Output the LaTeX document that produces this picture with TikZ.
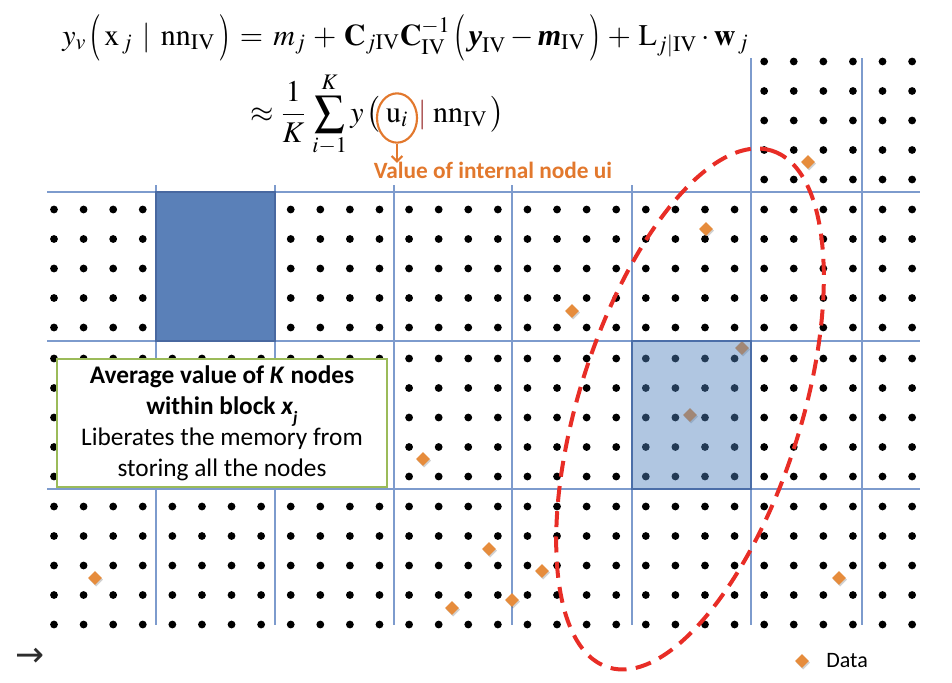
\documentclass[tikz,border=0pt]{standalone}
\usepackage{amsmath}
\usepackage{graphicx}
\usepackage{mathptmx}
\usepackage{fontspec}
\newfontfamily\calib{Carlito}
\newfontfamily\timesf{Liberation Serif}
\newfontfamily\dejavu{DejaVu Sans}
\usetikzlibrary{shapes.geometric,arrows.meta}
\definecolor{gridc}{RGB}{125,155,205}
\definecolor{dblue}{RGB}{90,128,184}
\definecolor{dbluebd}{RGB}{72,104,160}
\definecolor{lblue}{RGB}{79,129,189}
\definecolor{lbluebd}{RGB}{75,110,168}
\definecolor{orng}{RGB}{230,140,60}
\definecolor{orngt}{RGB}{226,120,45}
\definecolor{redd}{RGB}{232,45,38}
\definecolor{greenb}{RGB}{155,187,89}
\definecolor{barred}{RGB}{150,40,40}
\definecolor{darkg}{RGB}{45,45,45}
\newcommand{\bmy}{\mbox{\timesf\bfseries\itshape y}}
\newcommand{\bmm}{\mbox{\timesf\bfseries\itshape m}}
\newcommand{\tallL}{\mathopen{\vcenter{\hbox{\scalebox{1}[1.55]{$($}}}}}
\newcommand{\tallR}{\mathclose{\vcenter{\hbox{\scalebox{1}[1.55]{$)$}}}}}
\tikzset{
  gridline/.style={draw=gridc, line width=0.9pt},
  dotc/.style={fill=black},
  datam/.style={diamond, fill=orng, inner sep=0pt, minimum width=10.5pt, minimum height=10.5pt,
    preaction={fill=black, fill opacity=0.18, transform canvas={shift={(0.8pt,-1.2pt)}}}},
  textbox/.style={draw=greenb, line width=2.2pt, fill=white, minimum width=247.5pt, minimum height=96pt, align=center, inner sep=0pt, font=\calib\fontsize{19}{23.3}\selectfont},
  eqfont/.style={inner sep=0pt, font=\fontsize{22.5}{26}\selectfont},
}
\begin{document}
\begin{tikzpicture}[x=0.75pt,y=-0.75pt]
\useasboundingbox (0,0) rectangle (952,682);
% grid lines
\foreach \yy in {192,341,489} \draw[gridline] (47,\yy) -- (920,\yy);
\foreach \xx in {156,275,394,512,632} \draw[gridline] (\xx,185) -- (\xx,625);
\foreach \xx in {751,862} \draw[gridline] (\xx,58) -- (\xx,625);
% dots
\foreach \top in {192,341,489}{
  \foreach \k in {0,...,29}{
    \foreach \r in {0,...,4}{
      \fill[dotc] ({54+29.59*\k},{\top+17.5+29.5*\r}) circle[radius=3.9];
    }
  }
}
\foreach \k in {24,...,29}{
  \foreach \r in {0,...,4}{
    \fill[dotc] ({54+29.59*\k},{44+17.5+29.5*\r}) circle[radius=3.9];
  }
}
% dark blue block
\filldraw[fill=dblue, draw=dbluebd, line width=1pt] (156,192) rectangle (275,341);
% data points
\foreach \x/\y [count=\i] in {808/162,706/229,572/311,742/348,690/415,423/459,95/578,489/549,542/571,452/608,512/600,839/578}
  \node[datam] (d\i) at (\x,\y) {};
% light blue block
\fill[lblue, fill opacity=0.45] (632,341) rectangle (751,489);
\draw[lbluebd, line width=1.5pt] (632,341) rectangle (751,489);
% dashed ellipse
\draw[redd, line width=3pt, dash pattern=on 12pt off 7pt, rotate around={72.4:(690,409)}] (690,409) ellipse [x radius=271, y radius=111];
% text box
\node[textbox] (tb) at (222,423) {%
  {\bfseries Average value of \textit{K} nodes}\\
  {\bfseries within block \textit{x}\raisebox{-0.35em}{\fontsize{13}{13}\selectfont\textit{j}}}\\
  Liberates the memory from\\
  storing all the nodes};
% formulas
\node[eqfont, anchor=base west] (eq1) at (62,45)
  {$\displaystyle y_v\,\tallL\,\mathrm{x}_{\,j}\,\mid\, \mathrm{nn}_{\mathrm{IV}}\,\tallR \,=\, m_j \,+\, \mathbf{C}_{j\mathrm{IV}}\mathbf{C}_{\mathrm{IV}}^{-1}\,\tallL\,\bmy_{\mathrm{IV}} - \bmm_{\mathrm{IV}}\,\tallR \,+\, \mathrm{L}_{j|\mathrm{IV}}\cdot\mathbf{w}_{\,j}$};
\node[eqfont, anchor=base east] (eq2a) at (381,122)
  {$\displaystyle \approx \frac{1}{K}\,\sum_{i-1}^{K} y\,\bigl($};
\node[eqfont, draw=orngt, line width=1.6pt, ellipse, minimum width=30pt, minimum height=37pt] (uc) at (397,118) {$\mathrm{u}_i$};
\node[eqfont, anchor=base west] (eq2b) at (418,122)
  {$\displaystyle \textcolor{barred}{|}\;\mathrm{nn}_{\mathrm{IV}}\,\bigr)$};
% annotation
\node[text=orngt, font=\calib\bfseries\fontsize{17.5}{20}\selectfont, inner sep=1pt] (val) at (493,170) {Value of internal node ui};
\draw[orngt, line width=1.6pt, -{Straight Barb[length=4pt,width=8pt]}] (uc.south) -- ([yshift=-2pt]uc.south |- val.north);
% legend
\node[datam] (leg) at (802,661) {};
\node[anchor=west, font=\calib\fontsize{16.5}{20}\selectfont, inner sep=0pt] (legt) at (826,661) {Data};
% arrow bottom left
\node[text=darkg, font=\dejavu\fontsize{26}{26}\selectfont, inner sep=0pt] (arr) at (30,657) {→};
\end{tikzpicture}
\end{document}
